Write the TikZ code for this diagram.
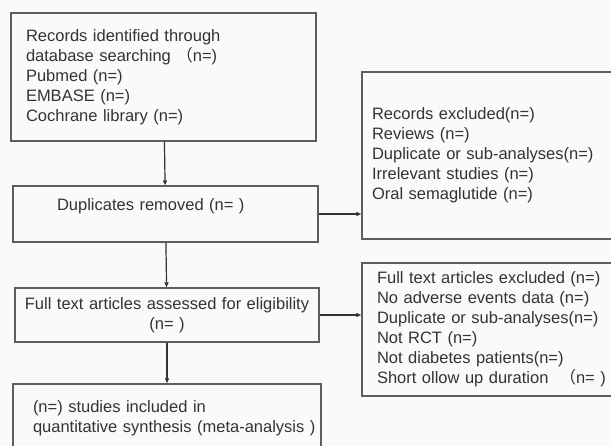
\documentclass[tikz,border=0pt]{standalone}
\usepackage{fontspec}
\setmainfont{Liberation Sans}
\newfontfamily\cjk{Noto Sans CJK SC}
\usetikzlibrary{arrows.meta}
\definecolor{boxline}{HTML}{5E5E5E}
\definecolor{inktext}{HTML}{333333}
\definecolor{paper}{HTML}{FAFAFC}
\begin{document}
\begin{tikzpicture}[x=1pt, y=-1pt,
    box/.style={rectangle, draw=boxline, line width=1.4pt, text=inktext, inner ysep=0pt,
                font=\fontsize{16.5}{20}\selectfont},
    flow/.style={-{Triangle[length=5pt, width=4pt]}, line width=1.2pt, draw=inktext}]
    \clip (0,0) rectangle (611,446);
    \fill[paper] (0,0) rectangle (611,446);

    \node[box, minimum width=305, minimum height=128, inner xsep=15, text width=275, align=left] (search) at (163.5,77)
        {Records identified through\\database searching {\cjk （}n=)\\Pubmed (n=)\\EMBASE (n=)\\Cochrane library (n=)};
    \node[box, minimum width=305, minimum height=56, inner xsep=44, text width=217, text depth=18pt, align=left] (dupl) at (165.5,214)
        {Duplicates removed (n= )};
    \node[box, minimum width=304, minimum height=54, inner xsep=2, text width=300, align=center] (fulltext) at (167,315)
        {Full text articles assessed for eligibility\\(n= )};
    \node[box, minimum width=308, minimum height=68, inner xsep=4, text width=300, align=left,
          execute at begin node={\leftskip=16pt}] (included) at (167,418)
        {(n=) studies included in\\quantitative synthesis (meta-analysis )};

    \node[box, minimum width=260, minimum height=167, inner xsep=10, text width=240, align=left] (excl) at (492,155.5)
        {Records excluded(n=)\\Reviews (n=)\\Duplicate or sub-analyses(n=)\\Irrelevant studies (n=)\\Oral semaglutide (n=)};
    \node[box, minimum width=260, minimum height=133, inner xsep=15, text width=230, align=left] (ftexcl) at (492,329.5)
        {Full text articles excluded (n=)\\No adverse events data (n=)\\Duplicate or sub-analyses(n=)\\Not RCT (n=)\\Not diabetes patients(n=)\\Short ollow up duration \ {\cjk （}n= )};

    \draw[flow] (search) -- (dupl);
    \draw[flow] (dupl) -- (fulltext);
    \draw[flow] (fulltext) -- (included);
    \draw[flow] (dupl.east) -- (dupl.east -| excl.west);
    \draw[flow] (fulltext.east) -- (fulltext.east -| ftexcl.west);
\end{tikzpicture}
\end{document}
